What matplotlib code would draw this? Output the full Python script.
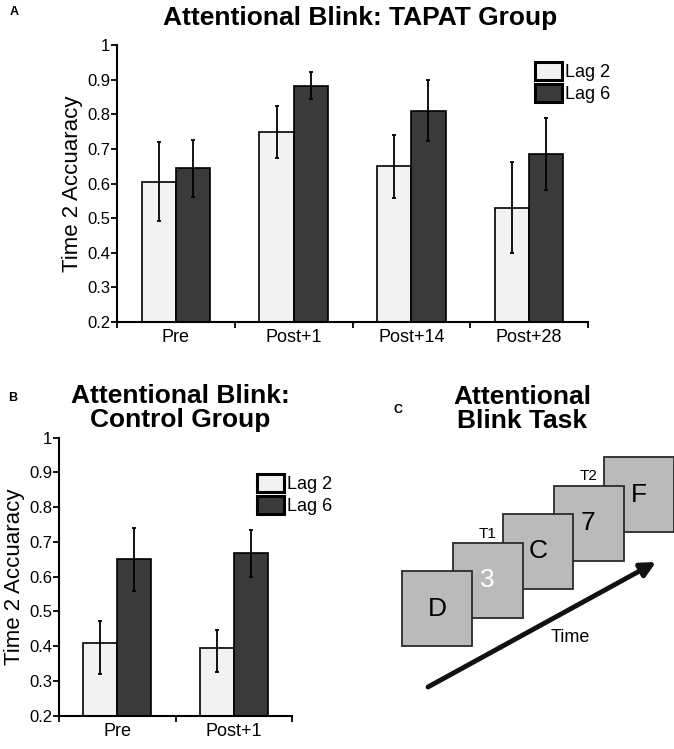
import matplotlib.pyplot as plt
from matplotlib.patches import Rectangle
import numpy as np

plt.rcParams['font.family'] = ['Liberation Sans', 'DejaVu Sans']

# Panel A data (TAPAT group)
tapat_sessions = ['Pre', 'Post+1', 'Post+14', 'Post+28']
tapat_lag2 = [0.605, 0.748, 0.650, 0.530]
tapat_lag2_lo = [0.492, 0.673, 0.559, 0.399]
tapat_lag2_hi = [0.719, 0.823, 0.739, 0.661]
tapat_lag6 = [0.644, 0.883, 0.810, 0.685]
tapat_lag6_lo = [0.561, 0.845, 0.722, 0.580]
tapat_lag6_hi = [0.727, 0.923, 0.900, 0.790]

# Panel B data (control group)
ctrl_sessions = ['Pre', 'Post+1']
ctrl_lag2 = [0.410, 0.394]
ctrl_lag2_lo = [0.320, 0.325]
ctrl_lag2_hi = [0.472, 0.447]
ctrl_lag6 = [0.650, 0.667]
ctrl_lag6_lo = [0.558, 0.598]
ctrl_lag6_hi = [0.740, 0.735]

yticks = [0.2, 0.3, 0.4, 0.5, 0.6, 0.7, 0.8, 0.9, 1]
ytick_labels = ['0.2', '0.3', '0.4', '0.5', '0.6', '0.7', '0.8', '0.9', '1']

# Panel C: stream of RSVP items
stream = ['D', '3', 'C', '7', 'F']
stream_colors = ['black', 'white', 'black', 'black', 'black']

LIGHT = '#f2f2f2'
DARK = '#3a3a3a'


def bar_panel(ax, sessions, lag2, lo2, hi2, lag6, lo6, hi6, leg_pos):
    x = np.arange(len(sessions))
    w = 0.29
    err2 = [np.array(lag2) - np.array(lo2), np.array(hi2) - np.array(lag2)]
    err6 = [np.array(lag6) - np.array(lo6), np.array(hi6) - np.array(lag6)]
    ax.bar(x - w / 2, lag2, w, color=LIGHT, edgecolor='black', linewidth=1.2,
           label='Lag 2', zorder=2)
    ax.bar(x + w / 2, lag6, w, color=DARK, edgecolor='black', linewidth=1.2,
           label='Lag 6', zorder=2)
    ax.errorbar(x - w / 2, lag2, yerr=err2, fmt='none', ecolor='black',
                elinewidth=1.3, capsize=1.5, capthick=1.3, zorder=3)
    ax.errorbar(x + w / 2, lag6, yerr=err6, fmt='none', ecolor='black',
                elinewidth=1.3, capsize=1.5, capthick=1.3, zorder=3)

    ax.set_xlim(-0.5, len(sessions) - 0.5)
    ax.set_ylim(0.2, 1.0)
    ax.set_yticks(yticks)
    ax.set_yticklabels(ytick_labels)
    ax.set_xticks(x)
    ax.set_xticklabels(sessions)
    ax.set_xticks(np.arange(len(sessions) + 1) - 0.5, minor=True)
    ax.tick_params(axis='x', which='major', length=0, labelsize=13, pad=5)
    ax.tick_params(axis='x', which='minor', length=4, width=1.3, direction='out')
    ax.tick_params(axis='y', length=4, width=1.3, direction='out', labelsize=12, pad=1)
    ax.spines['top'].set_visible(False)
    ax.spines['right'].set_visible(False)
    ax.spines['left'].set_linewidth(1.5)
    ax.spines['bottom'].set_linewidth(1.5)
    ax.set_ylabel('Time 2 Accuaracy', fontsize=16, labelpad=3)

    leg = ax.legend(loc='upper left', bbox_to_anchor=leg_pos, frameon=False,
                    fontsize=13, handlelength=1.5, handleheight=1.2,
                    handletextpad=0.15, labelspacing=0.15, borderpad=0,
                    borderaxespad=0)
    for h in leg.legend_handles:
        h.set_linewidth(2.2)


fig = plt.figure(figsize=(6.74, 7.49), dpi=100)

# Panel A
axA = fig.add_axes([117 / 674, 1 - 322 / 749, 471 / 674, 277 / 749])
bar_panel(axA, tapat_sessions, tapat_lag2, tapat_lag2_lo, tapat_lag2_hi,
          tapat_lag6, tapat_lag6_lo, tapat_lag6_hi, (0.887, 0.94))
fig.text(360 / 674, 1 - 18 / 749, 'Attentional Blink: TAPAT Group',
         ha='center', va='center', fontsize=19, fontweight='bold')
fig.text(10 / 674, 1 - 12 / 749, 'A', ha='left', va='center', fontsize=9,
         fontweight='bold')

# Panel B
axB = fig.add_axes([59 / 674, 1 - 715.7 / 749, 233 / 674, 278 / 749])
bar_panel(axB, ctrl_sessions, ctrl_lag2, ctrl_lag2_lo, ctrl_lag2_hi,
          ctrl_lag6, ctrl_lag6_lo, ctrl_lag6_hi, (0.85, 0.87))
fig.text(180 / 674, 1 - 408 / 749, 'Attentional Blink:\nControl Group',
         ha='center', va='center', fontsize=19, fontweight='bold',
         linespacing=1.0)
fig.text(8 / 674, 1 - 398 / 749, 'B', ha='left', va='center', fontsize=9,
         fontweight='bold')

# Panel C: schematic of the task, drawn in pixel coordinates
axC = fig.add_axes([0, 0, 1, 1])
axC.set_xlim(0, 674)
axC.set_ylim(749, 0)
axC.axis('off')
axC.patch.set_visible(False)

fig.text(522 / 674, 1 - 409 / 749, 'Attentional\nBlink Task',
         ha='center', va='center', fontsize=19, fontweight='bold',
         linespacing=1.0)
fig.text(398 / 674, 1 - 410 / 749, 'C', ha='center', va='center', fontsize=9,
         fontweight='bold')

sq_w, sq_h = 70, 75
for i, (letter, col) in enumerate(zip(stream, stream_colors)):
    x0 = 402 + 50.5 * i
    y0 = 571 - 28.5 * i
    z = 10 - i
    axC.add_patch(Rectangle((x0, y0), sq_w, sq_h, facecolor='#bababa',
                            edgecolor='#2a2a2a', linewidth=1.3, zorder=z))
    axC.text(x0 + sq_w / 2, y0 + sq_h / 2, letter, ha='center', va='center',
             fontsize=19, color=col, zorder=z)

axC.text(402 + 50.5 + sq_w / 2, 571 - 28.5 - 2, 'T1', ha='center',
         va='bottom', fontsize=11)
axC.text(402 + 50.5 * 3 + sq_w / 2, 571 - 28.5 * 3 - 2, 'T2', ha='center',
         va='bottom', fontsize=11)

axC.annotate('', xy=(656, 562), xytext=(428, 687),
             arrowprops=dict(arrowstyle='-|>', lw=3.5, color='#111111',
                             mutation_scale=22, shrinkA=0, shrinkB=0))
axC.text(570, 638, 'Time', ha='center', va='center', fontsize=13)

plt.savefig('out.png', dpi=100)
